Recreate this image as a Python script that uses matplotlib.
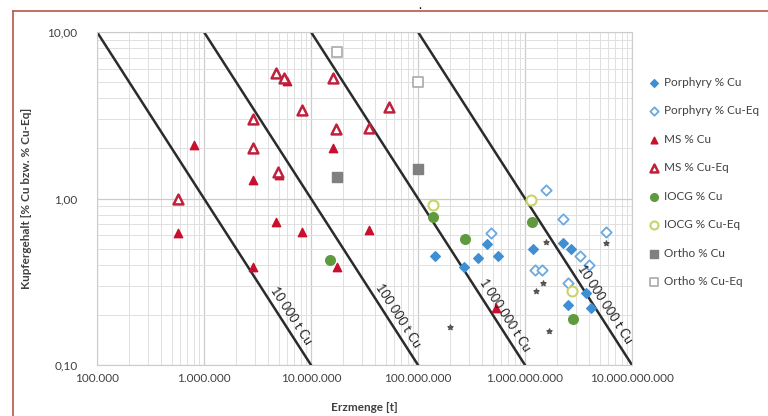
import numpy as np
import matplotlib
matplotlib.use("Agg")
import matplotlib.pyplot as plt
from matplotlib.ticker import FixedLocator, FuncFormatter, LogLocator, NullFormatter
from matplotlib.lines import Line2D

plt.rcParams['font.family'] = ['Lato', 'DejaVu Sans']

# Erzmenge [t] und Kupfergehalt [%] je Lagerstättentyp
porph_cu_t = [1.45e8, 2.7e8, 3.65e8, 4.4e8, 5.6e8, 1.2e9, 2.25e9, 2.7e9, 3.75e9, 2.55e9, 4.1e9]
porph_cu_g = [0.45, 0.39, 0.44, 0.53, 0.45, 0.50, 0.54, 0.50, 0.27, 0.23, 0.22]
porph_eq_t = [4.8e8, 1.57e9, 2.25e9, 5.7e9, 3.25e9, 4.0e9, 1.25e9, 1.45e9, 2.55e9]
porph_eq_g = [0.62, 1.12, 0.75, 0.63, 0.45, 0.40, 0.37, 0.37, 0.31]

ms_cu_t = [5.7e5, 8.1e5, 2.85e6, 2.85e6, 4.7e6, 5.0e6, 6.0e6, 8.2e6, 1.6e7, 1.75e7, 3.5e7, 5.4e8]
ms_cu_g = [0.62, 2.1, 1.3, 0.39, 0.72, 1.38, 5.1, 0.63, 2.0, 0.39, 0.65, 0.22]
ms_eq_t = [5.7e5, 2.85e6, 2.85e6, 4.7e6, 5.6e6, 8.2e6, 4.9e6, 1.6e7, 1.7e7, 3.5e7, 5.4e7]
ms_eq_g = [1.0, 3.0, 2.0, 5.7, 5.3, 3.4, 1.45, 5.3, 2.6, 2.65, 3.55]

iocg_cu_t = [1.5e7, 1.37e8, 2.75e8, 1.16e9, 2.8e9]
iocg_cu_g = [0.43, 0.77, 0.57, 0.72, 0.19]
iocg_eq_t = [1.37e8, 1.15e9, 2.75e9]
iocg_eq_g = [0.92, 0.98, 0.28]

ortho_cu_t = [1.75e7, 1.0e8]
ortho_cu_g = [1.35, 1.5]
ortho_eq_t = [1.75e7, 1.0e8]
ortho_eq_g = [7.6, 5.0]

other_t = [2.0e8, 1.57e9, 5.7e9, 1.46e9, 1.27e9, 1.68e9]
other_g = [0.17, 0.55, 0.54, 0.31, 0.28, 0.16]

# Linien gleichen Kupferinhalts [t Cu]
contained = [1e4, 1e5, 1e6, 1e7]
line_labels = ["10 000 t Cu", "100 000 t Cu", "1 000 000 t Cu", "10 000 000 t Cu"]
label_grade = [0.184, 0.184, 0.184, 0.214]

fig = plt.figure(figsize=(7.68, 4.16), dpi=100)
ax = fig.add_axes([97 / 768, 1 - 365 / 416, 535 / 768, 333 / 416])
ax.set_xscale('log')
ax.set_yscale('log')
ax.set_xlim(1e5, 1e10)
ax.set_ylim(0.1, 10)

ax.xaxis.set_major_locator(FixedLocator([1e5, 1e6, 1e7, 1e8, 1e9, 1e10]))
ax.yaxis.set_major_locator(FixedLocator([0.1, 1, 10]))
ax.xaxis.set_minor_locator(LogLocator(base=10, subs=np.arange(2, 10)))
ax.yaxis.set_minor_locator(LogLocator(base=10, subs=np.arange(2, 10)))
ax.xaxis.set_minor_formatter(NullFormatter())
ax.yaxis.set_minor_formatter(NullFormatter())
ax.xaxis.set_major_formatter(FuncFormatter(lambda v, p: f"{v:,.0f}".replace(",", ".")))
ax.yaxis.set_major_formatter(FuncFormatter(lambda v, p: f"{v:.2f}".replace(".", ",")))
ax.tick_params(which='both', length=0, labelsize=8.5, labelcolor='#404040')
ax.tick_params(axis='x', pad=6)
ax.tick_params(axis='y', pad=14)

ax.grid(True, which='major', color='#cccccc', lw=0.9)
ax.grid(True, which='minor', color='#e0e0e0', lw=0.7)
for s in ax.spines.values():
    s.set_color('#cccccc')
    s.set_linewidth(0.8)
ax.set_axisbelow(True)

grades = np.array([10.0, 0.1])
for c, lab, lg in zip(contained, line_labels, label_grade):
    ax.plot(c * 100 / grades, grades, color='#2b2b2b', lw=1.8, zorder=2)
    ax.annotate(lab, (c * 100 / lg, lg), xytext=(6, 4), textcoords='offset points',
                rotation=-57.3, ha='center', va='center', fontsize=9,
                color='#202020', rotation_mode='anchor', zorder=4)

ax.scatter(other_t, other_g, marker='*', s=14, color='#555555', zorder=3)
ax.scatter(porph_cu_t, porph_cu_g, marker='D', s=24, color='#3f8fd2', zorder=3,
           label='Porphyry % Cu')
ax.scatter(porph_eq_t, porph_eq_g, marker='D', s=28, facecolor='white',
           edgecolor='#6fa8dc', lw=1.3, zorder=3, label='Porphyry % Cu-Eq')
ax.scatter(ms_cu_t, ms_cu_g, marker='^', s=36, color='#c8102e', zorder=3,
           label='MS % Cu')
ax.scatter(ms_eq_t, ms_eq_g, marker='^', s=50, facecolor='white',
           edgecolor='#c0203c', lw=1.8, zorder=3, label='MS % Cu-Eq')
ax.scatter(iocg_cu_t, iocg_cu_g, marker='o', s=48, color='#5f9a3e', zorder=3,
           label='IOCG % Cu')
ax.scatter(iocg_eq_t, iocg_eq_g, marker='o', s=52, facecolor='white',
           edgecolor='#c7d46a', lw=1.5, zorder=3, label='IOCG % Cu-Eq')
ax.scatter(ortho_cu_t, ortho_cu_g, marker='s', s=48, color='#808080', zorder=3,
           label='Ortho % Cu')
ax.scatter(ortho_eq_t, ortho_eq_g, marker='s', s=52, facecolor='white',
           edgecolor='#b0b0b0', lw=1.3, zorder=3, label='Ortho % Cu-Eq')

fig.legend(*ax.get_legend_handles_labels(), loc='upper left',
           bbox_to_anchor=(645 / 768, 1 - 71 / 416), frameon=False, fontsize=8.5,
           labelspacing=1.48, handlelength=0.6, handletextpad=0.5, borderpad=0,
           labelcolor='#404040', markerscale=0.8)

ax.set_xlabel('Erzmenge [t]', fontsize=8.5, fontweight='bold', color='#404040', labelpad=13)
ax.set_ylabel('Kupfergehalt [% Cu bzw. % Cu-Eq]', fontsize=8.5, fontweight='bold',
              color='#404040', labelpad=11)

# Rahmen
fig.add_artist(Line2D([13 / 768, 1], [1 - 11 / 416, 1 - 11 / 416], color='#b5584a', lw=1.2))
fig.add_artist(Line2D([13 / 768, 13 / 768], [0, 1 - 11 / 416], color='#b5584a', lw=1.2))
fig.text(420 / 768, 1 - 9 / 416, '.', fontsize=9, color='black', ha='center')

fig.savefig('out.png', dpi=100)
